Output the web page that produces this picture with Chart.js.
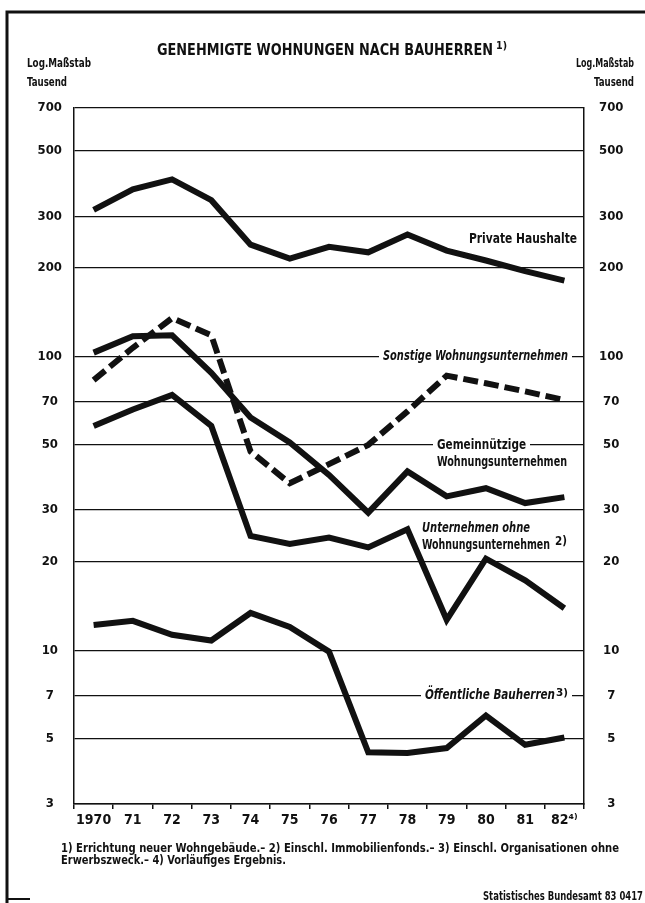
<!DOCTYPE html>
<html lang="de">
<head>
  <meta charset="UTF-8" />
  <title>Genehmigte Wohnungen nach Bauherren</title>
  <script src="https://cdn.jsdelivr.net/npm/chart.js"></script>
  <style>
    html, body { margin: 0; padding: 0; background: #fff; }
    #wrap { position: relative; width: 645px; height: 903px; }
  </style>
</head>
<body>
  <div id="wrap"><canvas id="wohnChart"></canvas></div>

  <script>
    // Werte in Tausend
    const years = ['1970', '71', '72', '73', '74', '75', '76', '77', '78', '79', '80', '81', '82⁴⁾'];
    const privateHaushalte = [315, 370, 400, 340, 240, 215, 236, 226, 260, 229, 212, 195, 181];
    const sonstigeWU = [83, 107, 135, 118, 47.5, 37, 43, 50, 65, 86, 81, 76, 71];
    const gemeinnuetzigeWU = [103, 117, 118, 88, 62, 51, 39.5, 29.4, 40.6, 33.4, 35.6, 31.7, 33.2];
    const unternehmenOhneWU = [58, 66, 74, 58, 24.5, 23, 24.2, 22.4, 25.8, 12.7, 20.5, 17.3, 13.9];
    const oeffentlicheBH = [12.2, 12.6, 11.3, 10.8, 13.4, 12.0, 9.9, 4.5, 4.47, 4.65, 6.0, 4.77, 5.05];
    const yTicks = [3, 5, 7, 10, 20, 30, 50, 70, 100, 200, 300, 500, 700];

    const INK = '#111';
    const FAM = '"DejaVu Sans Condensed", "Liberation Sans Narrow", "DejaVu Sans", sans-serif';

    // draw text squeezed/stretched to a given width (left edge x, middle y)
    function fitText(ctx, str, x, y, w, font) {
      ctx.save();
      ctx.font = font;
      ctx.textAlign = 'left';
      ctx.textBaseline = 'middle';
      const m = ctx.measureText(str).width;
      ctx.translate(x, y);
      ctx.scale(w / m, 1);
      ctx.fillText(str, 0, 0);
      ctx.restore();
    }

    function whiteBox(ctx, x, y, w) {
      ctx.fillStyle = '#fff';
      ctx.fillRect(x - 4, y - 6, w + 8, 12);
      ctx.fillStyle = INK;
    }

    const decor = {
      id: 'decor',
      beforeDatasetsDraw(chart) {
        const ctx = chart.ctx;
        const ys = chart.scales.y;
        const a = chart.chartArea;
        const b = 'bold 14px ' + FAM;
        const bi = 'italic bold 14px ' + FAM;
        ctx.save();
        ctx.fillStyle = INK;

        fitText(ctx, 'Private Haushalte', a.right - 115, ys.getPixelForValue(250), 108, b);

        let y = ys.getPixelForValue(100);
        whiteBox(ctx, a.left + 309, y, 185);
        fitText(ctx, 'Sonstige Wohnungsunternehmen', a.left + 309, y, 185, bi);

        y = ys.getPixelForValue(50);
        whiteBox(ctx, a.left + 363, y, 89);
        fitText(ctx, 'Gemeinnützige', a.left + 363, y, 89, b);
        fitText(ctx, 'Wohnungsunternehmen', a.left + 363, y + 17, 130, b);

        fitText(ctx, 'Unternehmen ohne', a.left + 348, ys.getPixelForValue(26), 108, bi);
        fitText(ctx, 'Wohnungsunternehmen', a.left + 348, ys.getPixelForValue(22.8), 128, b);
        fitText(ctx, '2)', a.left + 481, ys.getPixelForValue(23.3), 12, 'bold 12px ' + FAM);

        y = ys.getPixelForValue(7);
        whiteBox(ctx, a.left + 351, y, 143);
        fitText(ctx, 'Öffentliche Bauherren', a.left + 351, y, 130, bi);
        fitText(ctx, '3)', a.left + 482, y - 3, 12, 'bold 11px ' + FAM);
        ctx.restore();
      },
      afterDraw(chart) {
        const ctx = chart.ctx;
        ctx.save();
        ctx.fillStyle = INK;

        // frame of the figure
        ctx.strokeStyle = INK;
        ctx.lineWidth = 3;
        ctx.beginPath();
        ctx.moveTo(7, 903); ctx.lineTo(7, 12); ctx.lineTo(645, 12);
        ctx.stroke();
        ctx.lineWidth = 2;
        ctx.beginPath();
        ctx.moveTo(7, 899); ctx.lineTo(30, 899);
        ctx.stroke();

        // cut-off heading above the frame
        fitText(ctx, 'Schaubild 1', 288, -5, 82, 'bold 15px ' + FAM);

        // title
        fitText(ctx, 'GENEHMIGTE WOHNUNGEN NACH BAUHERREN', 157, 51, 336, 'bold 16px ' + FAM);
        fitText(ctx, '1)', 496, 46, 11, 'bold 11px ' + FAM);

        // axis headers
        const h = 'bold 13px ' + FAM;
        fitText(ctx, 'Log.Maßstab', 27, 64, 64, h);
        fitText(ctx, 'Tausend', 27, 83, 40, h);
        fitText(ctx, 'Log.Maßstab', 576, 64, 58, h);
        fitText(ctx, 'Tausend', 594, 83, 40, h);

        // footnotes and source
        const f = 'bold 12px ' + FAM;
        fitText(ctx, '1) Errichtung neuer Wohngebäude.– 2) Einschl. Immobilienfonds.– 3) Einschl. Organisationen ohne', 61, 849, 558, f);
        fitText(ctx, 'Erwerbszweck.– 4) Vorläufiges Ergebnis.', 61, 861, 225, f);
        fitText(ctx, 'Statistisches Bundesamt 83 0417', 483, 897, 160, 'bold 13px ' + FAM);
        ctx.restore();
      }
    };

    const lineStyle = {
      borderColor: INK,
      borderWidth: 6,
      pointRadius: 0,
      tension: 0,
      fill: false,
      borderJoinStyle: 'miter',
      yAxisID: 'y'
    };

    const tickFont = { family: FAM, size: 13, weight: 'bold' };
    const setTicks = (s) => { s.ticks = yTicks.map(v => ({ value: v })); };

    new Chart(document.getElementById('wohnChart'), {
      type: 'line',
      data: {
        labels: years,
        datasets: [
          { ...lineStyle, label: 'Private Haushalte', data: privateHaushalte },
          { ...lineStyle, label: 'Sonstige Wohnungsunternehmen', data: sonstigeWU, borderDash: [15, 6] },
          { ...lineStyle, label: 'Gemeinnützige Wohnungsunternehmen', data: gemeinnuetzigeWU },
          { ...lineStyle, label: 'Unternehmen ohne Wohnungsunternehmen', data: unternehmenOhneWU },
          { ...lineStyle, label: 'Öffentliche Bauherren', data: oeffentlicheBH }
        ]
      },
      options: {
        responsive: true,
        maintainAspectRatio: false,
        animation: false,
        layout: { padding: { top: 108, bottom: 69, left: 0, right: 0 } },
        plugins: {
          legend: { display: false },
          title: { display: false },
          tooltip: { enabled: false }
        },
        scales: {
          x: {
            type: 'category',
            offset: true,
            grid: { offset: true, drawOnChartArea: false, drawTicks: true, tickLength: 5, color: INK, lineWidth: 1.5 },
            border: { display: true, color: INK, width: 1.5 },
            ticks: { font: { family: FAM, size: 14, weight: 'bold' }, color: INK, padding: 3, maxRotation: 0, autoSkip: false },
            afterFit(s) { s.height = 30; }
          },
          y: {
            type: 'logarithmic',
            position: 'left',
            min: 3,
            max: 700,
            afterBuildTicks: setTicks,
            ticks: { callback: v => String(v), crossAlign: 'center', padding: 12, font: tickFont, color: INK },
            grid: { color: INK, lineWidth: 1.3, drawTicks: false },
            border: { display: true, color: INK, width: 1.5 },
            afterFit(s) { s.width = 74; }
          },
          y2: {
            type: 'logarithmic',
            position: 'right',
            min: 3,
            max: 700,
            afterBuildTicks: setTicks,
            ticks: { callback: v => String(v), crossAlign: 'center', padding: 15, font: tickFont, color: INK },
            grid: { drawOnChartArea: false, drawTicks: false },
            border: { display: true, color: INK, width: 1.5 },
            afterFit(s) { s.width = 61; }
          }
        }
      },
      plugins: [decor]
    });
  </script>
</body>
</html>
